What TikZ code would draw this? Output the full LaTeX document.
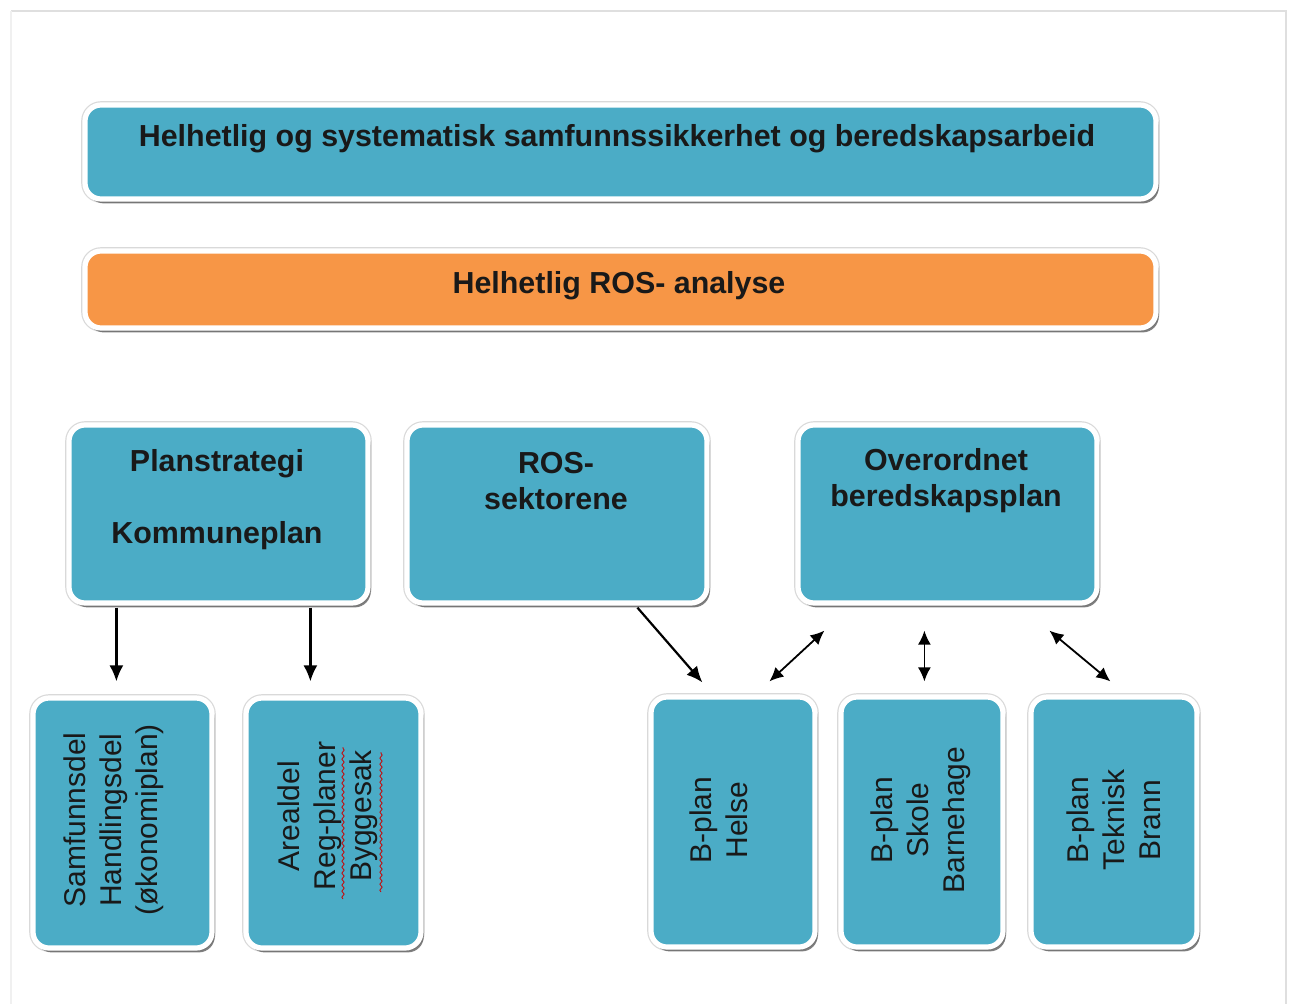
\documentclass[tikz,border=0pt]{standalone}
\usepackage{fontspec}
\setmainfont{Liberation Sans}
\usetikzlibrary{shadows,calc,arrows.meta,decorations.pathmorphing}
\definecolor{boxblue}{HTML}{4BACC6}
\definecolor{boxorange}{HTML}{F79646}
\begin{document}
\begin{tikzpicture}[x=0.5pt,y=-0.5pt,
  panel/.style={rectangle, rounded corners=8pt, fill=boxblue, draw=white, line width=2.6pt,
    preaction={draw=gray!30, line width=3.8pt},
    drop shadow={shadow xshift=1.4pt, shadow yshift=-2.2pt, fill=gray!60!black, opacity=0.7},
    inner sep=0pt},
  headtxt/.style={font=\bfseries\fontsize{15.2}{18}\selectfont, align=center, text=black!90, inner sep=0pt},
  sidetxt/.style={rotate=90, font=\fontsize{15}{18}\selectfont, align=center, text=black!90, inner sep=0pt},
  arr/.style={-{Latex[length=8pt,width=7pt]}, line width=1.1pt},
  darr/.style={{Latex[length=7pt,width=6.5pt]}-{Latex[length=7pt,width=6.5pt]}, line width=0.9pt},
  squig/.style={draw=red!80!black, line width=0.4pt, decorate, decoration={snake, amplitude=0.6pt, segment length=3pt}}
]
\useasboundingbox (0,0) rectangle (1289,1007);
\fill[white] (0,0) rectangle (1289,1007);
% outer frame
\draw[gray!25, line width=1.2pt] (11,11) -- (1286,11) -- (1286,1004);
\draw[gray!12, line width=1pt] (11,11) -- (11,1004);

% boxes
\node[panel, minimum width=535.5pt, minimum height=47pt] (top) at (620.5,152) {};
\node[panel, fill=boxorange, minimum width=535.5pt, minimum height=38.5pt] (ros0) at (620.5,289.5) {};
\node[panel, minimum width=149.5pt, minimum height=89pt] (plan) at (218.5,514) {};
\node[panel, minimum width=150pt, minimum height=89pt] (ros) at (557,514) {};
\node[panel, minimum width=149.5pt, minimum height=89pt] (over) at (947.5,514) {};
\node[panel, minimum width=89.5pt, minimum height=125pt] (samf) at (122.5,823) {};
\node[panel, minimum width=87.5pt, minimum height=125pt] (areal) at (333.5,823) {};
\node[panel, minimum width=82pt, minimum height=125pt] (helse) at (733,822) {};
\node[panel, minimum width=81pt, minimum height=125pt] (skole) at (922,822) {};
\node[panel, minimum width=83pt, minimum height=125pt] (tek) at (1114,822) {};

% texts
\node[headtxt] (ttop) at (617,139) {Helhetlig og systematisk samfunnssikkerhet og beredskapsarbeid};
\node[headtxt] (tros0) at (619,286) {Helhetlig ROS- analyse};
\node[headtxt] (tplan) at (217,500) {Planstrategi\\[18pt]Kommuneplan};
\node[headtxt] (tros) at (556,481) {ROS-\\sektorene};
\node[headtxt] (tover) at (946,481) {Overordnet\\beredskapsplan};
\node[sidetxt] (tsamf) at (114,820) {Samfunnsdel\\Handlingsdel\\(økonomiplan)};
\node[sidetxt] (tareal) at (328,816) {Arealdel\\Reg-planer\\Byggesak};
\node[sidetxt] (thelse) at (719,820) {B-plan\\Helse};
\node[sidetxt] (tskole) at (921,820) {B-plan\\Skole\\Barnehage};
\node[sidetxt] (ttek) at (1114,820) {B-plan\\Teknisk\\Brann};

% spell-check squiggles
\path[squig] (343,899) -- (343,747);
\path[squig] (381,892) -- (381,752);

% connectors
\draw[arr] ($(plan.south west)+(50,2)$) -- ($(samf.north west)+(86,-14)$);
\draw[arr] ($(plan.south west)+(244,2)$) -- ($(areal.north west)+(67,-14)$);
\draw[arr] ($(ros.south west)+(233,2)$) -- ($(helse.north west)+(54,-12)$);
\draw[darr] ($(helse.north west)+(121,-13)$) -- ($(over.south west)+(29,25)$);
\draw[darr] ($(skole.north west)+(86,-13)$) -- ($(over.south west)+(129,25)$);
\draw[darr] ($(tek.north west)+(82,-13)$) -- ($(over.south west)+(254,25)$);
\end{tikzpicture}
\end{document}
